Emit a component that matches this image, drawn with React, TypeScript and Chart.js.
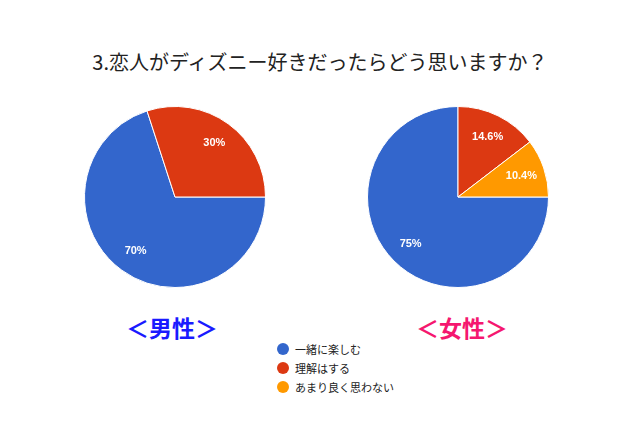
import { useEffect, useRef } from "react";
import { Chart, registerables } from "chart.js";

Chart.register(...registerables);

const title = "3.恋人がディズニー好きだったらどう思いますか？";
const categories = ["一緒に楽しむ", "理解はする", "あまり良く思わない"];
const colors = ["#3366cc", "#dc3912", "#ff9900"];
const maleLabel = "＜男性＞";
const femaleLabel = "＜女性＞";
const maleValues = [70, 30, 0];
const femaleValues = [75, 14.6, 10.4];

// white percentage text inside each slice
const sliceText = {
  id: "sliceText",
  afterDatasetsDraw(chart: any) {
    const ctx = chart.ctx;
    const ds = chart.data.datasets[0];
    const meta = chart.getDatasetMeta(0);
    ctx.save();
    ctx.fillStyle = "#ffffff";
    ctx.font = "bold 11px 'Liberation Sans', Arial, sans-serif";
    ctx.textAlign = "center";
    ctx.textBaseline = "middle";
    meta.data.forEach((arc: any, i: number) => {
      const v = ds.data[i];
      if (!v) return;
      const { x, y, startAngle, endAngle, outerRadius } = arc.getProps(
        ["x", "y", "startAngle", "endAngle", "outerRadius"],
        true
      );
      const mid = (startAngle + endAngle) / 2;
      const r = outerRadius * 0.74;
      ctx.fillText(v + "%", x + Math.cos(mid) * r, y + Math.sin(mid) * r);
    });
    ctx.restore();
  },
};

function Pie({ values, left }: { values: number[]; left: number }) {
  const ref = useRef<HTMLCanvasElement | null>(null);
  useEffect(() => {
    if (!ref.current) return;
    const c = new Chart(ref.current, {
      type: "pie",
      data: {
        labels: categories,
        datasets: [
          {
            data: values,
            backgroundColor: colors,
            borderColor: "#ffffff",
            borderWidth: 1,
          },
        ],
      },
      options: {
        animation: false,
        responsive: true,
        maintainAspectRatio: false,
        rotation: 90,
        layout: { padding: 0 },
        plugins: { legend: { display: false }, tooltip: { enabled: false } },
      },
      plugins: [sliceText],
    });
    return () => c.destroy();
  }, []);
  return (
    <div style={{ position: "absolute", left, top: 106, width: 182, height: 182 }}>
      <canvas ref={ref}></canvas>
    </div>
  );
}

export default function App() {
  const jp = "'Noto Sans CJK JP', 'Noto Sans', sans-serif";
  return (
    <div
      style={{
        position: "absolute",
        left: 0,
        top: 0,
        width: 640,
        height: 427,
        background: "#ffffff",
        fontFamily: jp,
        overflow: "hidden",
      }}
    >
      <div
        style={{
          position: "absolute",
          top: 47,
          left: 0,
          width: 640,
          textAlign: "center",
          fontSize: 20,
          lineHeight: "30px",
          color: "#222222",
        }}
      >
        {title}
      </div>
      <Pie values={maleValues} left={84} />
      <Pie values={femaleValues} left={367} />
      <div
        style={{
          position: "absolute",
          top: 310,
          left: 72,
          width: 200,
          textAlign: "center",
          fontSize: 23,
          fontWeight: "bold",
          lineHeight: "34px",
          color: "#1a1aff",
        }}
      >
        {maleLabel}
      </div>
      <div
        style={{
          position: "absolute",
          top: 310,
          left: 362,
          width: 200,
          textAlign: "center",
          fontSize: 23,
          fontWeight: "bold",
          lineHeight: "34px",
          color: "#f5176f",
        }}
      >
        {femaleLabel}
      </div>
      <div style={{ position: "absolute", top: 339, left: 277 }}>
        {categories.map((c, i) => (
          <div
            key={c}
            style={{
              display: "flex",
              alignItems: "center",
              height: 19,
              fontSize: 11,
              color: "#222222",
            }}
          >
            <span
              style={{
                display: "inline-block",
                width: 12,
                height: 12,
                borderRadius: 6,
                background: colors[i],
                marginRight: 6,
              }}
            ></span>
            {c}
          </div>
        ))}
      </div>
    </div>
  );
}
